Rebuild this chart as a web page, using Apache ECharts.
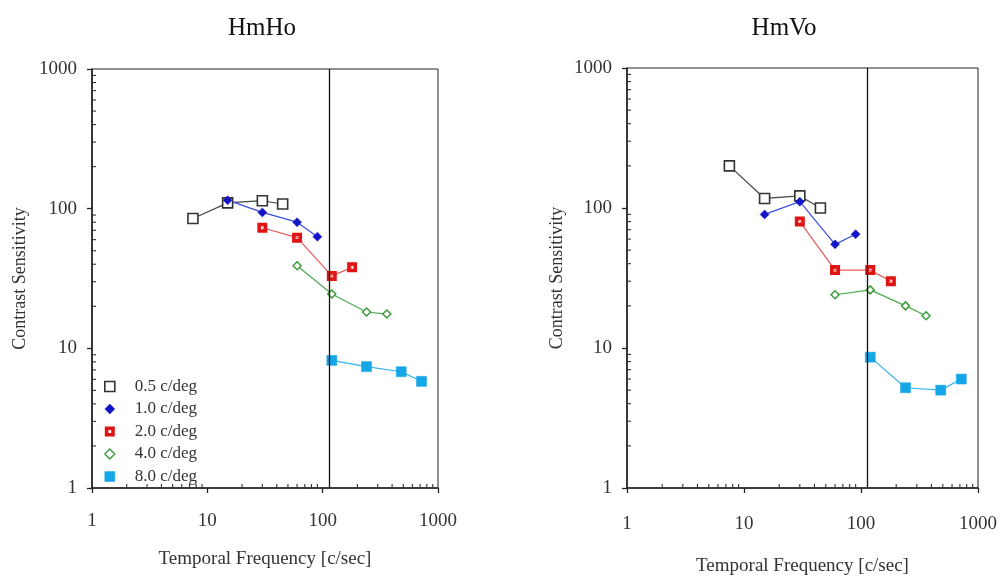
<!DOCTYPE html>
<html>
<head>
<meta charset="utf-8">
<script src="https://cdn.jsdelivr.net/npm/echarts@6/dist/echarts.min.js"></script>
<style>
  html, body { margin: 0; padding: 0; background: #fff; }
  #chart { width: 1005px; height: 581px; }
</style>
</head>
<body>
<div id="chart"></div>
<script>
// Temporal frequency (c/sec) sampled for each spatial frequency
const freq05 = [7.5, 15, 30, 45];
const freq10 = [15, 30, 60, 90];
const freq20 = [30, 60, 120, 180];
const freq40 = [60, 120, 240, 360];
const freq80 = [120, 240, 480, 720];

// Contrast sensitivity, HmHo condition
const hmHo05 = [85, 110, 114, 108];
const hmHo10 = [115, 94, 80, 63];
const hmHo20 = [73, 62, 33, 38];
const hmHo40 = [39, 24.5, 18.2, 17.6];
const hmHo80 = [8.2, 7.4, 6.8, 5.8];

// Contrast sensitivity, HmVo condition
const hmVo05 = [200, 117, 122, 100];
const hmVo10 = [90, 111, 55, 65];
const hmVo20 = [80, 36, 36, 30];
const hmVo40 = [24, 26, 20, 17];
const hmVo80 = [8.6, 5.2, 5.0, 6.0];

const seriesNames = ['0.5 c/deg', '1.0 c/deg', '2.0 c/deg', '4.0 c/deg', '8.0 c/deg'];
const panelTitles = ['HmHo', 'HmVo'];
const xAxisName = 'Temporal Frequency [c/sec]';
const yAxisName = 'Contrast Sensitivity';
const decades = [1, 10, 100, 1000];
const cutoffFreq = 114;

const FONT = '"Liberation Serif", "DejaVu Serif", serif';

// Filled square with a small hollow centre (inner square wound the other way)
const holedSquare = 'path://M0,0 L10,0 L10,10 L0,10 Z M3.6,3.6 L3.6,6.4 L6.4,6.4 L6.4,3.6 Z';

// Marker look for each spatial frequency
const styles = [
  { symbol: 'rect', size: 10, line: '#444', item: { color: '#fff', borderColor: '#333', borderWidth: 1.6 },
    legendItem: { color: '#fff', borderColor: '#333', borderWidth: 1.6 } },
  { symbol: 'diamond', size: 9, line: '#3b4fe0', item: { color: '#1414c8', borderColor: '#1414c8', borderWidth: 0.5 },
    legendItem: { color: '#1414c8', borderColor: '#1414c8', borderWidth: 0.5 } },
  { symbol: holedSquare, size: 10, line: '#e85a5a', item: { color: '#e01414', borderWidth: 0 },
    legendItem: { color: '#e01414', borderWidth: 0 } },
  { symbol: 'diamond', size: 8, line: '#4fa84f', item: { color: '#fff', borderColor: '#3c9c3c', borderWidth: 1.5 },
    legendItem: { color: '#fff', borderColor: '#3c9c3c', borderWidth: 1.4 } },
  { symbol: 'rect', size: 10, line: '#34b4ee', item: { color: '#14a6e6', borderColor: '#14a6e6', borderWidth: 0.5 },
    legendItem: { color: '#14a6e6', borderColor: '#14a6e6', borderWidth: 0.5 } }
];

const panels = [
  { freqs: [freq05, freq10, freq20, freq40, freq80], vals: [hmHo05, hmHo10, hmHo20, hmHo40, hmHo80] },
  { freqs: [freq05, freq10, freq20, freq40, freq80], vals: [hmVo05, hmVo10, hmVo20, hmVo40, hmVo80] }
];

const grids = [
  { left: 92, top: 69, width: 346, height: 419 },
  { left: 627, top: 68, width: 351, height: 427 }
];

function pairs(xs, ys) {
  return xs.map((x, i) => [x, ys[i]]);
}

// Minor tick values between the decades (2..9 x 10^k)
const minorVals = [];
for (let d = 0; d < decades.length - 1; d++) {
  for (let m = 2; m <= 9; m++) minorVals.push(decades[d] * m);
}

const labelFmt = v => String(Math.round(v));

const xAxes = grids.map((g, i) => ({
  type: 'log', logBase: 10, gridIndex: i, min: 1, max: 1000,
  name: xAxisName, nameLocation: 'middle', nameGap: i === 0 ? 62 : 69,
  nameTextStyle: { fontFamily: FONT, fontSize: 19, color: '#333' },
  axisLine: { lineStyle: { color: '#222', width: 1.6 } },
  axisTick: { show: true, inside: false, length: 5, lineStyle: { color: '#222', width: 1.3 } },
  axisLabel: { fontFamily: FONT, fontSize: 19, color: '#333', margin: i === 0 ? 24 : 27, formatter: labelFmt },
  splitLine: { show: false }
}));

const yAxes = grids.map((g, i) => ({
  type: 'log', logBase: 10, gridIndex: i, min: 1, max: 1000,
  name: yAxisName, nameLocation: 'middle', nameGap: i === 0 ? 63 : 61, nameRotate: 90,
  nameTextStyle: { fontFamily: FONT, fontSize: 18, color: '#333' },
  axisLine: { lineStyle: { color: '#222', width: 1.6 } },
  axisTick: { show: true, inside: false, length: 5, lineStyle: { color: '#222', width: 1.3 } },
  axisLabel: { fontFamily: FONT, fontSize: 19, color: '#333', margin: 15, formatter: labelFmt },
  splitLine: { show: false }
}));

const series = [];
panels.forEach((p, pi) => {
  p.vals.forEach((vals, si) => {
    const st = styles[si];
    const s = {
      name: seriesNames[si],
      type: 'line',
      xAxisIndex: pi, yAxisIndex: pi,
      data: pairs(p.freqs[si], vals),
      symbol: st.symbol, symbolSize: st.size,
      showAllSymbol: true,
      lineStyle: { color: st.line, width: 1.2 },
      itemStyle: st.item,
      emphasis: { disabled: true },
      animation: false,
      z: 3
    };
    if (si === 0) {
      s.markLine = {
        silent: true, symbol: 'none', animation: false,
        label: { show: false },
        lineStyle: { color: '#111', width: 1.3, type: 'solid' },
        data: [{ xAxis: cutoffFreq }]
      };
    }
    series.push(s);
  });

  // Minor ticks on both log axes, drawn inside the plot frame
  series.push({
    type: 'custom', xAxisIndex: pi, yAxisIndex: pi, silent: true, animation: false, clip: false, z: 4,
    data: minorVals.map(v => [v, 1]),
    renderItem: (params, api) => {
      const pt = api.coord([api.value(0), 1]);
      return { type: 'line', shape: { x1: pt[0], y1: pt[1] + 1, x2: pt[0], y2: pt[1] - 4 },
               style: { stroke: '#333', lineWidth: 1.1 } };
    }
  });
  series.push({
    type: 'custom', xAxisIndex: pi, yAxisIndex: pi, silent: true, animation: false, clip: false, z: 4,
    data: minorVals.map(v => [1, v]),
    renderItem: (params, api) => {
      const pt = api.coord([1, api.value(1)]);
      return { type: 'line', shape: { x1: pt[0] - 1, y1: pt[1], x2: pt[0] + 4, y2: pt[1] },
               style: { stroke: '#333', lineWidth: 1.1 } };
    }
  });
});

const chart = echarts.init(document.getElementById('chart'), null, { renderer: 'canvas' });
chart.setOption({
  backgroundColor: '#fff',
  animation: false,
  title: panelTitles.map((t, i) => ({
    text: t, left: i === 0 ? 257 : 779, top: 11, textAlign: 'center',
    textStyle: { fontFamily: FONT, fontSize: 25, fontWeight: 'normal', color: '#111' }
  })),
  legend: {
    orient: 'vertical', left: 99, top: 373,
    itemWidth: 10, itemHeight: 10, itemGap: 5.5,
    selectedMode: false,
    textStyle: { fontFamily: FONT, fontSize: 17, color: '#333', padding: [0, 0, 0, 15] },
    data: seriesNames.map((n, i) => ({
      name: n, icon: styles[i].symbol,
      itemStyle: styles[i].legendItem
    }))
  },
  grid: grids.map(g => Object.assign({ show: true, borderColor: '#222', borderWidth: 1, backgroundColor: 'transparent' }, g)),
  xAxis: xAxes,
  yAxis: yAxes,
  series: series
});
</script>
</body>
</html>
